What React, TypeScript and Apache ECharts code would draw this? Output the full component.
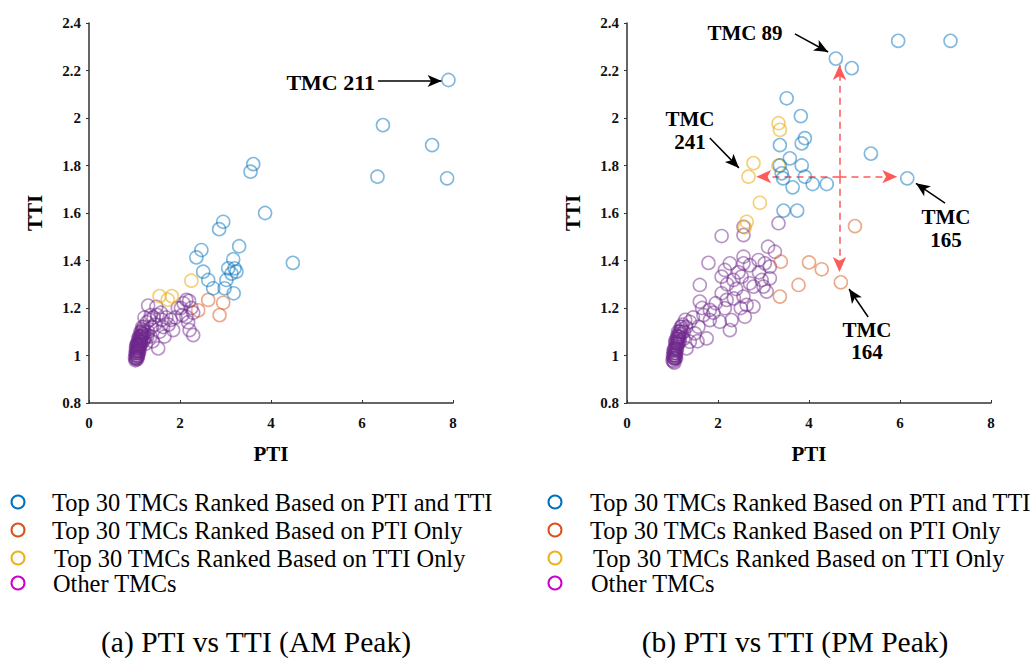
import React, { useEffect, useRef } from "react";
import * as echarts from "echarts";

// ---------- AM peak (left) ----------
const amBoth: number[][] = [
  [7.9, 2.16], [6.46, 1.97], [7.54, 1.886], [6.34, 1.753], [7.87, 1.746], [3.87, 1.6], [4.48, 1.39],
  [3.61, 1.806], [3.55, 1.774], [2.95, 1.563], [2.86, 1.532], [3.3, 1.46], [2.47, 1.444], [2.36, 1.413],
  [3.17, 1.405], [3.06, 1.367], [3.2, 1.367], [3.24, 1.353], [3.13, 1.345], [2.51, 1.353], [2.62, 1.318],
  [3.02, 1.318], [2.73, 1.283], [2.98, 1.283], [3.18, 1.262],
];
const amPtiOnly: number[][] = [[2.4, 1.19], [2.62, 1.234], [2.95, 1.222], [2.87, 1.17]];
const amTtiOnly: number[][] = [[1.55, 1.25], [1.73, 1.235], [1.82, 1.25], [2.25, 1.315]];
const amOther: number[][] = [
  [1.02, 0.98], [1.04, 0.99], [1.05, 1.0], [1.03, 1.0], [1.06, 0.985], [1.08, 1.0], [1.07, 1.01], [1.05, 1.02],
  [1.09, 1.02], [1.1, 1.03], [1.08, 1.03], [1.06, 1.03], [1.12, 1.04], [1.1, 1.05], [1.07, 1.04], [1.13, 1.06],
  [1.11, 1.06], [1.15, 1.07], [1.09, 1.06], [1.14, 1.08], [1.17, 1.08], [1.12, 1.08], [1.16, 1.1], [1.2, 1.09],
  [1.13, 1.1], [1.18, 1.11], [1.22, 1.1], [1.04, 1.01], [1.11, 1.02], [1.03, 0.985], [1.15, 1.05], [1.19, 1.06],
  [1.24, 1.08], [1.06, 1.05], [1.1, 1.08],
  [1.01, 0.99], [1.02, 1.01], [1.04, 1.02], [1.05, 0.99], [1.07, 0.995], [1.06, 1.015], [1.08, 1.02], [1.09, 1.01],
  [1.03, 1.03], [1.05, 1.04], [1.07, 1.05], [1.09, 1.045], [1.11, 1.04], [1.12, 1.05], [1.14, 1.06], [1.13, 1.075],
  [1.1, 1.065], [1.16, 1.085], [1.15, 1.095], [1.18, 1.09], [1.21, 1.07], [1.04, 1.045], [1.08, 1.07], [1.17, 1.12],
  [1.2, 1.12], [1.27, 1.14], [1.33, 1.15], [1.3, 1.1], [1.25, 1.05], [1.35, 1.08], [1.38, 1.12], [1.42, 1.16],
  [1.48, 1.205], [1.45, 1.13], [1.5, 1.17], [1.52, 1.03], [1.55, 1.1], [1.6, 1.15], [1.58, 1.18], [1.66, 1.08],
  [1.7, 1.16], [1.75, 1.13], [1.8, 1.15], [1.85, 1.107], [1.9, 1.16], [1.22, 1.16], [1.4, 1.06], [1.63, 1.12],
  [2.02, 1.2], [2.08, 1.22], [2.14, 1.234], [2.2, 1.23], [2.25, 1.2], [2.29, 1.18], [2.14, 1.163], [2.18, 1.14],
  [2.21, 1.107], [2.29, 1.086], [1.95, 1.2], [2.05, 1.17], [1.3, 1.21], [1.36, 1.17], [1.28, 1.08],
];

// ---------- PM peak (right) ----------
const pmBoth: number[][] = [
  [4.59, 2.25], [4.94, 2.21], [5.96, 2.325], [7.11, 2.325], [5.36, 1.85], [6.16, 1.746], [4.39, 1.722],
  [4.08, 1.722], [3.82, 2.008], [3.51, 2.083], [3.91, 1.915], [3.84, 1.893], [3.36, 1.886], [3.58, 1.83],
  [3.36, 1.8], [3.4, 1.767], [3.43, 1.746], [3.84, 1.8], [3.91, 1.753], [3.64, 1.708], [3.44, 1.61], [3.74, 1.61],
];
const pmPtiOnly: number[][] = [[4.7, 1.308], [4.28, 1.363], [4.0, 1.392], [3.77, 1.297], [5.01, 1.545], [3.38, 1.395], [3.36, 1.248]];
const pmTtiOnly: number[][] = [[2.67, 1.753], [2.78, 1.81], [2.92, 1.643], [3.33, 1.978], [3.36, 1.95], [3.33, 1.8], [2.63, 1.563], [2.59, 1.54]];
const pmOther: number[][] = [
  [3.33, 1.557], [2.56, 1.542], [2.08, 1.503], [2.56, 1.507], [1.79, 1.39], [2.56, 1.416], [2.56, 1.388],
  [2.89, 1.402], [3.1, 1.458], [3.25, 1.437], [3.03, 1.388], [3.14, 1.374], [2.26, 1.388], [2.15, 1.36],
  [2.08, 1.332], [2.34, 1.318], [2.52, 1.332], [2.7, 1.304], [2.78, 1.29], [3.0, 1.29], [3.07, 1.269],
  [2.96, 1.318], [3.14, 1.325], [1.6, 1.297], [1.6, 1.227], [2.08, 1.262], [2.19, 1.234], [2.15, 1.199],
  [2.56, 1.248], [2.63, 1.213], [2.78, 1.206], [2.59, 1.163], [2.3, 1.149], [2.26, 1.107], [2.04, 1.142],
  [1.82, 1.192], [1.68, 1.17], [1.82, 1.149], [1.38, 1.142], [1.2, 1.121], [1.57, 1.121], [1.75, 1.072],
  [1.49, 1.093], [1.38, 1.058], [1.31, 1.03], [2.4, 1.28], [2.45, 1.35], [2.2, 1.3], [1.95, 1.22], [1.9, 1.18],
  [2.5, 1.2], [2.35, 1.24], [1.45, 1.16], [1.65, 1.2], [1.55, 1.06], [2.9, 1.35], [2.7, 1.38],
  [1.0, 0.98], [1.02, 0.99], [1.04, 1.0], [1.03, 1.01], [1.05, 0.985], [1.06, 1.0], [1.07, 1.02], [1.05, 1.03],
  [1.08, 1.01], [1.09, 1.04], [1.1, 1.03], [1.08, 1.05], [1.12, 1.06], [1.11, 1.07], [1.13, 1.05], [1.15, 1.08],
  [1.14, 1.09], [1.17, 1.1], [1.12, 1.1], [1.2, 1.11], [1.18, 1.12], [1.22, 1.13], [1.25, 1.1], [1.02, 1.02],
  [1.06, 1.06], [1.1, 1.08], [1.16, 1.06], [1.04, 0.97], [1.08, 0.99], [1.28, 1.15], [1.3, 1.12], [1.24, 1.07],
  [1.01, 1.0], [1.03, 0.99], [1.05, 1.01], [1.07, 1.0], [1.04, 1.025], [1.06, 1.035], [1.09, 1.025], [1.11, 1.05],
  [1.07, 1.055], [1.09, 1.07], [1.13, 1.08], [1.15, 1.1], [1.19, 1.09], [1.02, 0.975], [1.06, 0.99], [1.14, 1.07],
];

// ---------- axes / labels ----------
const xTicks = { min: 0, max: 8, interval: 2 };
const yTicks = { min: 0.8, max: 2.4, interval: 0.2 };
const legendNames = [
  "Top 30 TMCs Ranked Based on PTI and TTI",
  "Top 30 TMCs Ranked Based on PTI Only",
  "Top 30 TMCs Ranked Based on TTI Only",
  "Other TMCs",
];
const legendColors = ["#0072BD", "#D95319", "#EDB120", "#CC00CC"];
const captions = ["(a) PTI vs TTI (AM Peak)", "(b) PTI vs TTI (PM Peak)"];

// annotation arrows (data coords): [x1, y1, x2, y2]
const amArrows: number[][] = [[6.35, 2.156, 7.75, 2.156]];
const pmArrows: number[][] = [
  [3.69, 2.354, 4.42, 2.278],
  [1.82, 1.916, 2.46, 1.79],
  [6.99, 1.642, 6.35, 1.725],
  [5.3, 1.162, 4.88, 1.28],
];
const pmRedArrows: number[][] = [
  [4.67, 1.753, 2.84, 1.753],
  [4.67, 1.753, 5.94, 1.753],
  [4.67, 1.753, 4.67, 2.223],
  [4.67, 1.753, 4.67, 1.352],
];

const SERIF = '"Liberation Serif", "Times New Roman", serif';
const pointColors = ["rgba(0,114,189,0.62)", "rgba(217,83,25,0.62)", "rgba(237,177,32,0.75)", "rgba(112,40,140,0.62)"];

function App() {
  const ref = useRef<HTMLDivElement>(null);
  useEffect(() => {
    const chart = echarts.init(ref.current!, null, { renderer: "svg" });
    const grids = [
      { left: 89, top: 23, width: 364, height: 380 },
      { left: 627, top: 23, width: 364, height: 380 },
    ];
    const xAxis = [0, 1].map((i) => ({
      type: "value",
      gridIndex: i,
      ...xTicks,
      name: "PTI",
      nameLocation: "middle",
      nameGap: 40,
      nameTextStyle: { fontFamily: SERIF, fontWeight: "bold", fontSize: 21, color: "#000" },
      axisLine: { show: true, lineStyle: { color: "#333", width: 1.5 } },
      axisTick: { show: true, inside: true, length: 3, lineStyle: { color: "#333" } },
      axisLabel: { margin: 12, fontFamily: SERIF, fontWeight: "bold", fontSize: 15, color: "#111" },
      splitLine: { show: false },
    }));
    const yAxis = [0, 1].map((i) => ({
      type: "value",
      gridIndex: i,
      ...yTicks,
      name: "TTI",
      nameLocation: "middle",
      nameGap: 44,
      nameTextStyle: { fontFamily: SERIF, fontWeight: "bold", fontSize: 21, color: "#000" },
      axisLine: { show: true, lineStyle: { color: "#333", width: 1.5 } },
      axisTick: { show: true, inside: false, length: 3, lineStyle: { color: "#333" } },
      axisLabel: {
        margin: 8,
        fontFamily: SERIF,
        fontWeight: "bold",
        fontSize: 15,
        color: "#111",
        formatter: (v: number) => String(Math.round(v * 10) / 10),
      },
      splitLine: { show: false },
    }));
    const mk = (data: number[][], idx: number, color: string, z: number) => ({
      type: "scatter",
      xAxisIndex: idx,
      yAxisIndex: idx,
      data,
      symbol: "circle",
      symbolSize: 13,
      z,
      itemStyle: { color: "rgba(0,0,0,0)", borderColor: color, borderWidth: 1.6 },
      emphasis: { disabled: true },
      silent: true,
    });
    const arrowSeries = (idx: number, arrows: number[][], color: string, dashed: boolean, size: number[]) => ({
      type: "scatter",
      xAxisIndex: idx,
      yAxisIndex: idx,
      data: [],
      silent: true,
      z: 10,
      markLine: {
        silent: true,
        animation: false,
        symbol: ["none", "arrow"],
        symbolSize: size,
        label: { show: false },
        emphasis: { disabled: true },
        lineStyle: { color, width: 1.5, type: dashed ? [7, 5] : "solid" },
        data: arrows.map((a) => [{ coord: [a[0], a[1]] }, { coord: [a[2], a[3]] }]),
      },
    });
    const series: any[] = [
      mk(amOther, 0, pointColors[3], 2),
      mk(amTtiOnly, 0, pointColors[2], 3),
      mk(amPtiOnly, 0, pointColors[1], 4),
      mk(amBoth, 0, pointColors[0], 5),
      mk(pmOther, 1, pointColors[3], 2),
      mk(pmTtiOnly, 1, pointColors[2], 3),
      mk(pmPtiOnly, 1, pointColors[1], 4),
      mk(pmBoth, 1, pointColors[0], 5),
      arrowSeries(0, amArrows, "#000", false, [9, 14]),
      arrowSeries(1, pmArrows, "#000", false, [9, 14]),
      arrowSeries(1, pmRedArrows, "#ff5a5a", true, [10, 15]),
    ];

    const txt = (text: string, x: number, y: number, size: number, bold: boolean, align = "left") => ({
      type: "text",
      x,
      y,
      silent: true,
      style: {
        text,
        fontFamily: SERIF,
        fontSize: size,
        fontWeight: bold ? "bold" : "normal",
        fill: "#000",
        textAlign: align,
        textVerticalAlign: "middle",
      },
    });
    const graphic: any[] = [];
    // annotations
    graphic.push(txt("TMC 211", 375, 82, 22, true, "right"));
    graphic.push(txt("TMC 89", 745, 33, 21, true, "center"));
    graphic.push(txt("TMC", 690, 119, 21, true, "center"));
    graphic.push(txt("241", 690, 142, 21, true, "center"));
    graphic.push(txt("TMC", 946, 217, 21, true, "center"));
    graphic.push(txt("165", 946, 240, 21, true, "center"));
    graphic.push(txt("TMC", 867, 330, 21, true, "center"));
    graphic.push(txt("164", 867, 352, 21, true, "center"));
    // legends
    const legRows = [502, 530, 558, 583];
    const legends = [
      { mx: 18, tx: [52, 52, 54, 53] },
      { mx: 555, tx: [590, 590, 593, 591] },
    ];
    legends.forEach((lg) => {
      legendNames.forEach((name, i) => {
        graphic.push({
          type: "circle",
          silent: true,
          shape: { cx: lg.mx, cy: legRows[i], r: 6.5 },
          style: { fill: "none", stroke: legendColors[i], lineWidth: 2 },
        });
        graphic.push(txt(name, lg.tx[i], legRows[i], 24.4, false));
      });
    });
    graphic.push(txt(captions[0], 256, 642, 29.5, false, "center"));
    graphic.push(txt(captions[1], 795, 642, 29.5, false, "center"));

    chart.setOption({
      animation: false,
      backgroundColor: "#fff",
      grid: grids,
      xAxis,
      yAxis,
      series,
      graphic,
    });
    return () => chart.dispose();
  }, []);
  return <div ref={ref} style={{ position: "absolute", left: 0, top: 0, width: 1034, height: 658 }} />;
}

export default App;
